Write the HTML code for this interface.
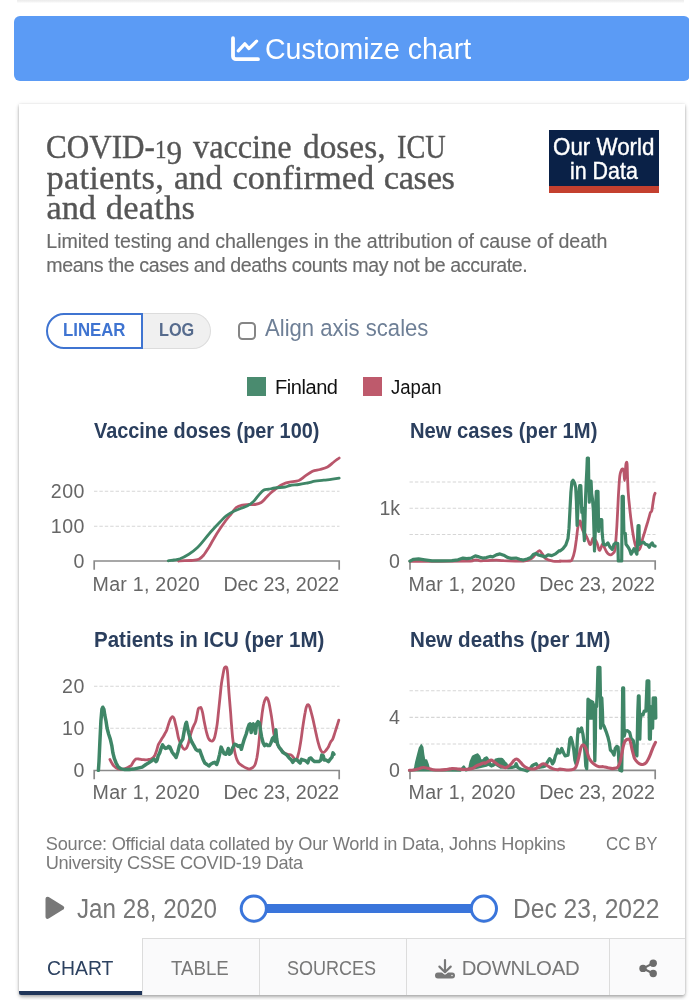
<!DOCTYPE html>
<html><head><meta charset="utf-8"><title>COVID-19 chart</title>
<style>
*{box-sizing:border-box;margin:0;padding:0}
html,body{width:689px;height:1000px;overflow:hidden;background:#fff}
body{font-family:"Liberation Sans",sans-serif;position:relative}
.a,.t{position:absolute;white-space:nowrap}
.t{z-index:5}
#txt{position:absolute;left:0;top:0;width:689px;height:1000px;z-index:5;will-change:transform}
#topshadow{left:17px;top:0;width:667px;height:3px;background:linear-gradient(#ebebeb,#f3f3f3 55%,#fdfdfd)}
#btn{left:14.4px;top:16px;width:676px;height:65px;background:#5b9bf5;border-radius:6px}
#card{left:18.5px;top:103.5px;width:666.6px;height:891px;background:#fff;border-radius:0 0 3px 3px;box-shadow:0 0 4px rgba(0,0,0,.09),0 0 1px rgba(0,0,0,.16),0 2px 3px rgba(0,0,0,.2),0 3px 5px rgba(0,0,0,.1)}
#logo{left:549px;top:130px;width:110px;height:63px;background:#0a2147;border-bottom:7px solid #c4402f}
#linbox{left:46px;top:313px;width:97px;height:35.5px;border:2px solid #3f74d1;border-radius:18px 0 0 18px;background:#fff}
#logbox{left:142px;top:313px;width:68.5px;height:35.5px;border:1px solid #dcdcdc;border-left:0;border-radius:0 18px 18px 0;background:#f0f0f0}
#cb{left:238px;top:322.3px;width:17.6px;height:17.6px;border:2.4px solid #858585;border-radius:4.5px;background:#fff}
#sqf{left:247px;top:377px;width:19px;height:19px;background:#4a8b6f}
#sqj{left:363px;top:377px;width:19px;height:19px;background:#be5a6c}
#tabs{left:141.5px;top:938px;width:543.6px;height:56.5px;background:#fafafb;border-radius:0 0 3px 0;border-top:1px solid #dcdcdc}
.dv{top:938px;width:1px;height:56.5px;background:#dcdcdc}
#tabul{left:18.5px;top:990.8px;width:123px;height:3.9px;background:#1f3559;border-radius:0 0 0 2px}
#svg{left:0;top:0;z-index:3}
</style></head><body>
<div class="a" id="topshadow"></div>
<div class="a" id="btn"></div>
<div class="a" id="card"></div>
<div class="a" id="logo"></div>
<div class="a" id="logbox"></div>
<div class="a" id="linbox"></div>
<div class="a" id="cb"></div>
<div class="a" id="sqf"></div>
<div class="a" id="sqj"></div>
<div class="a" id="tabs"></div>
<div class="a dv" style="left:141.5px"></div>
<div class="a dv" style="left:258.5px"></div>
<div class="a dv" style="left:405.5px"></div>
<div class="a dv" style="left:609px"></div>
<div class="a" id="tabul"></div>
<svg class="a" id="svg" width="689" height="1000" viewBox="0 0 689 1000">
<line x1="94" x2="339.5" y1="491.25" y2="491.25" stroke="#d6d6d6" stroke-width="1.1" stroke-dasharray="3.4,2"/>
<line x1="94" x2="339.5" y1="526.25" y2="526.25" stroke="#d6d6d6" stroke-width="1.1" stroke-dasharray="3.4,2"/>
<path d="M94.2,569.8 V561 H339.2 V569.8" fill="none" stroke="#8a8a8a" stroke-width="1.7"/>
<line x1="409.5" x2="655.5" y1="482" y2="482" stroke="#d6d6d6" stroke-width="1.1" stroke-dasharray="3.4,2"/>
<line x1="409.5" x2="655.5" y1="508.25" y2="508.25" stroke="#d6d6d6" stroke-width="1.1" stroke-dasharray="3.4,2"/>
<line x1="409.5" x2="655.5" y1="534.5" y2="534.5" stroke="#d6d6d6" stroke-width="1.1" stroke-dasharray="3.4,2"/>
<path d="M410,569.8 V561 H655.2 V569.8" fill="none" stroke="#8a8a8a" stroke-width="1.7"/>
<line x1="94" x2="339.5" y1="686.3" y2="686.3" stroke="#d6d6d6" stroke-width="1.1" stroke-dasharray="3.4,2"/>
<line x1="94" x2="339.5" y1="728.2" y2="728.2" stroke="#d6d6d6" stroke-width="1.1" stroke-dasharray="3.4,2"/>
<path d="M94.2,779.3 V770.5 H339.2 V779.3" fill="none" stroke="#8a8a8a" stroke-width="1.7"/>
<line x1="409.5" x2="655.5" y1="690.8" y2="690.8" stroke="#d6d6d6" stroke-width="1.1" stroke-dasharray="3.4,2"/>
<line x1="409.5" x2="655.5" y1="717.4" y2="717.4" stroke="#d6d6d6" stroke-width="1.1" stroke-dasharray="3.4,2"/>
<line x1="409.5" x2="655.5" y1="744" y2="744" stroke="#d6d6d6" stroke-width="1.1" stroke-dasharray="3.4,2"/>
<path d="M410,779.1999999999999 V770.4 H655.2 V779.1999999999999" fill="none" stroke="#8a8a8a" stroke-width="1.7"/>
<path d="M178.8,561.1 C179.0,561.0 177.9,560.9 180.0,560.8 C182.1,560.6 188.1,560.8 191.2,560.5 C194.4,560.2 196.7,560.2 198.8,559.2 C200.8,558.3 202.1,557.0 203.8,555.0 C205.4,553.0 207.1,550.2 208.8,547.5 C210.4,544.8 211.9,541.9 213.8,538.8 C215.6,535.6 217.9,531.9 220.0,528.8 C222.1,525.6 224.4,522.5 226.2,520.0 C228.1,517.5 229.6,515.8 231.2,513.8 C232.9,511.7 234.4,509.0 236.2,507.5 C238.1,506.0 240.4,505.5 242.5,505.0 C244.6,504.5 246.7,504.6 248.8,504.5 C250.8,504.4 252.9,504.8 255.0,504.5 C257.1,504.2 259.4,503.7 261.2,502.5 C263.1,501.3 264.6,499.2 266.2,497.5 C267.9,495.8 269.4,494.2 271.2,492.5 C273.1,490.8 275.4,489.0 277.5,487.5 C279.6,486.0 281.7,484.7 283.8,483.8 C285.8,482.8 287.5,482.5 290.0,482.0 C292.5,481.5 296.2,481.5 298.8,480.5 C301.2,479.5 302.7,477.8 305.0,476.2 C307.3,474.7 310.0,472.4 312.5,471.2 C315.0,470.1 317.5,470.2 320.0,469.5 C322.5,468.8 325.2,468.2 327.5,467.0 C329.8,465.8 331.8,463.5 333.8,462.0 C335.7,460.5 338.3,458.7 339.2,458.0" fill="none" stroke="#b9566b" stroke-width="2.8" stroke-linejoin="round" stroke-linecap="round"/>
<path d="M168.2,560.8 C169.2,560.6 172.0,560.3 174.0,560.0 C176.0,559.7 177.5,559.7 180.0,558.8 C182.5,557.8 185.8,556.1 188.8,554.2 C191.7,552.4 194.8,550.1 197.5,547.5 C200.2,544.9 202.5,541.7 205.0,538.8 C207.5,535.8 210.0,532.8 212.5,530.0 C215.0,527.2 217.7,524.4 220.0,522.0 C222.3,519.6 224.0,517.5 226.2,515.8 C228.5,514.0 231.2,512.5 233.8,511.2 C236.2,510.0 239.0,509.2 241.2,508.2 C243.5,507.3 245.4,506.9 247.5,505.8 C249.6,504.6 251.9,503.0 253.8,501.2 C255.6,499.5 257.1,496.9 258.8,495.0 C260.4,493.1 262.1,491.0 263.8,490.0 C265.4,489.0 266.9,489.6 268.8,489.2 C270.6,488.9 272.3,488.4 275.0,488.0 C277.7,487.6 282.5,487.4 285.0,487.0 C287.5,486.6 287.7,485.9 290.0,485.5 C292.3,485.1 295.8,484.9 298.8,484.5 C301.7,484.1 304.8,483.5 307.5,483.0 C310.2,482.5 312.3,481.7 315.0,481.2 C317.7,480.8 320.8,480.6 323.8,480.2 C326.7,479.9 329.9,479.6 332.5,479.2 C335.1,478.9 338.1,478.4 339.2,478.2" fill="none" stroke="#3f8667" stroke-width="2.8" stroke-linejoin="round" stroke-linecap="round"/>
<path d="M409.9,561.3 C419.4,561.3 456.2,561.2 466.7,561.1 C477.2,560.9 471.2,560.5 472.9,560.3 C474.5,560.1 475.3,559.8 476.6,559.8 C477.8,559.9 478.6,560.7 480.3,560.8 C481.9,560.9 483.7,560.7 486.4,560.6 C489.1,560.5 493.4,560.1 496.3,560.1 C499.2,560.1 499.2,560.4 503.7,560.6 C508.2,560.7 518.7,561.5 523.4,561.1 C528.2,560.7 530.0,559.3 532.1,558.1 C534.1,556.9 534.5,555.2 535.8,553.9 C537.0,552.7 538.3,550.6 539.5,550.7 C540.6,550.8 541.6,553.1 542.7,554.4 C543.7,555.7 543.9,557.5 545.6,558.6 C547.4,559.7 550.6,560.6 553.0,561.1 C555.5,561.5 559.3,561.3 560.4,561.3 C561.6,561.3 558.4,561.1 560.0,561.0 C561.6,561.0 568.1,561.4 570.2,561.0 C572.2,560.7 571.6,560.4 572.3,558.9 C573.1,557.3 573.9,554.7 574.5,551.6 C575.2,548.5 575.7,543.9 576.3,540.0 C576.8,536.1 577.3,531.3 577.7,528.4 C578.1,525.5 578.4,523.8 578.9,522.6 C579.3,521.4 579.9,520.6 580.3,521.1 C580.7,521.6 580.8,524.0 581.2,525.5 C581.6,526.9 582.0,528.6 582.5,529.8 C583.0,531.0 583.3,531.8 583.9,532.7 C584.6,533.7 585.4,534.3 586.1,535.6 C586.9,537.0 587.7,539.3 588.3,540.7 C588.9,542.2 589.3,543.9 589.8,544.3 C590.2,544.8 590.7,544.6 591.2,543.6 C591.7,542.6 592.1,539.3 592.7,538.5 C593.3,537.8 594.1,538.5 594.8,539.3 C595.6,540.0 596.3,541.1 597.0,542.9 C597.7,544.7 598.6,549.2 599.2,550.1 C599.8,551.1 600.1,549.7 600.6,548.7 C601.2,547.7 601.8,544.6 602.4,544.3 C603.0,544.1 603.6,546.0 604.3,547.2 C604.9,548.5 605.7,550.4 606.4,551.6 C607.2,552.8 607.9,553.7 608.6,554.2 C609.3,554.7 610.1,554.9 610.8,554.8 C611.5,554.6 612.3,554.1 613.0,553.3 C613.7,552.6 614.4,552.4 614.9,550.1 C615.3,547.9 615.5,544.1 615.9,540.0 C616.2,535.9 616.6,530.8 616.9,525.5 C617.2,520.1 617.5,514.1 617.8,508.1 C618.1,502.0 618.4,494.5 618.8,489.2 C619.1,483.9 619.4,479.1 619.8,476.1 C620.2,473.1 620.5,472.3 621.0,471.0 C621.4,469.8 622.2,468.7 622.7,468.9 C623.2,469.0 623.5,469.8 623.9,471.8 C624.2,473.7 624.3,480.5 624.6,480.5 C624.8,480.5 625.1,474.6 625.3,471.8 C625.6,469.0 625.7,465.1 626.0,463.8 C626.3,462.5 626.8,461.2 627.1,463.8 C627.3,466.3 627.4,474.3 627.6,479.0 C627.8,483.7 627.9,487.7 628.2,492.1 C628.5,496.4 628.9,500.8 629.4,505.2 C629.8,509.5 630.3,513.9 630.8,518.2 C631.4,522.6 632.0,527.5 632.6,531.3 C633.1,535.0 633.8,538.2 634.3,540.7 C634.8,543.3 635.2,544.9 635.8,546.5 C636.3,548.1 637.0,549.8 637.6,550.1 C638.3,550.5 639.2,549.7 639.8,548.7 C640.4,547.7 640.8,546.0 641.3,544.3 C641.8,542.6 642.1,540.7 642.7,538.5 C643.3,536.4 644.2,533.7 644.9,531.3 C645.6,528.9 646.4,526.2 647.1,524.0 C647.7,521.8 648.3,520.1 648.8,518.2 C649.4,516.3 649.8,513.9 650.3,512.7 C650.8,511.5 651.3,512.5 651.7,511.0 C652.2,509.5 652.5,506.1 652.9,503.7 C653.3,501.3 653.7,498.2 654.0,496.4 C654.4,494.7 654.9,493.8 655.1,493.3" fill="none" stroke="#b9566b" stroke-width="2.8" stroke-linejoin="round" stroke-linecap="round"/>
<path d="M409.9,561.1 L413.6,559.3 L418.6,558.9 L424.7,559.8 L432.1,560.8 L442.0,560.8 L451.9,560.6 L458.0,559.8 L463.0,558.1 L466.7,558.6 L471.1,558.1 L475.3,555.9 L479.0,556.9 L482.7,558.1 L486.4,557.6 L490.1,556.4 L492.6,556.9 L496.3,554.9 L500.0,553.9 L503.7,555.2 L507.4,557.4 L511.1,558.4 L516.0,558.1 L519.7,559.3 L523.4,560.1 L527.1,558.9 L530.8,557.4 L533.3,554.4 L535.8,553.4 L538.2,554.9 L541.9,555.9 L545.1,556.9 L548.1,554.9 L551.8,555.6 L555.5,553.9 L559.2,550.7 L560.0,550.9 L562.9,548.7 L565.8,545.1 L568.0,538.5 L569.0,528.4 L569.9,511.0 L570.9,492.1 L571.9,481.9 L573.1,480.2 L574.5,482.7 L575.7,487.7 L576.4,500.8 L577.1,525.5 L578.0,508.1 L578.9,493.5 L579.7,485.6 L580.8,485.6 L581.3,497.9 L581.8,512.4 L582.5,508.1 L583.2,518.2 L583.8,531.3 L584.4,540.7 L585.0,519.7 L585.5,499.3 L586.1,484.8 L586.9,468.9 L587.3,458.0 L588.4,458.0 L588.7,479.0 L589.3,502.2 L589.9,481.2 L591.1,481.2 L591.6,493.5 L592.5,499.3 L593.4,511.0 L594.0,531.3 L594.5,550.9 L595.3,531.3 L595.7,508.1 L596.3,491.4 L598.0,491.4 L598.3,508.1 L598.6,531.3 L599.2,519.7 L601.8,519.7 L602.1,531.3 L602.7,538.5 L603.5,544.3 L605.7,545.1 L607.9,542.9 L610.1,547.2 L612.2,549.4 L614.0,544.3 L615.9,542.9 L617.8,543.6 L618.1,551.6 L618.3,561.0 L621.7,561.0 L622.0,522.6 L622.1,496.4 L623.3,496.4 L623.6,519.7 L623.9,532.7 L625.3,533.5 L626.0,544.3 L628.2,547.2 L629.7,550.1 L631.1,554.2 L632.6,551.6 L634.0,548.7 L635.5,551.6 L636.9,554.2 L637.5,544.3 L637.8,531.3 L638.1,525.5 L639.0,525.5 L639.2,537.1 L639.5,544.3 L641.3,542.9 L643.5,542.2 L645.6,544.3 L647.8,545.1 L649.3,547.2 L650.7,544.3 L652.2,542.9 L653.6,545.8 L655.1,546.1" fill="none" stroke="#3f8667" stroke-width="3.2" stroke-linejoin="round" stroke-linecap="round"/>
<path d="M109.9,759.4 C110.2,760.0 111.1,762.0 111.8,763.0 C112.4,764.1 113.0,765.0 113.9,766.0 C114.9,766.9 116.0,768.0 117.6,768.6 C119.1,769.1 121.6,769.4 123.4,769.1 C125.2,768.9 127.1,767.8 128.5,767.1 C129.8,766.5 130.5,766.1 131.4,765.2 C132.2,764.3 132.8,762.6 133.5,761.6 C134.3,760.6 134.9,759.6 135.7,759.1 C136.6,758.7 137.5,758.9 138.6,759.0 C139.7,759.1 141.0,759.4 142.2,759.6 C143.5,759.7 144.8,759.9 145.9,759.9 C147.0,759.8 147.8,759.6 148.8,759.4 C149.7,759.2 150.7,759.3 151.7,758.7 C152.7,758.1 153.7,757.2 154.6,755.8 C155.4,754.3 156.2,751.8 156.8,750.0 C157.4,748.2 157.6,746.4 158.2,744.9 C158.8,743.5 159.7,742.5 160.4,741.3 C161.1,740.1 161.8,738.9 162.6,737.6 C163.3,736.4 164.0,735.4 164.7,734.0 C165.5,732.7 166.2,731.6 166.9,729.7 C167.6,727.7 168.4,724.3 169.1,722.4 C169.8,720.5 170.4,719.0 171.0,718.1 C171.6,717.1 172.2,716.5 172.7,716.6 C173.3,716.7 173.7,717.5 174.2,718.8 C174.7,720.1 175.1,722.5 175.6,724.6 C176.1,726.6 176.6,728.7 177.1,731.1 C177.6,733.5 177.9,736.4 178.8,739.1 C179.7,741.8 181.4,745.4 182.3,747.1 C183.3,748.8 183.8,749.1 184.5,749.3 C185.2,749.4 186.0,748.9 186.7,747.8 C187.4,746.7 188.0,744.8 188.6,742.7 C189.2,740.7 189.7,737.6 190.3,735.5 C190.9,733.3 191.5,731.4 192.1,729.7 C192.7,728.0 193.3,726.8 193.9,725.3 C194.6,723.9 195.3,722.9 195.8,721.0 C196.4,719.0 196.9,715.8 197.3,713.7 C197.7,711.6 198.0,709.6 198.4,708.6 C198.9,707.7 199.3,708.0 199.8,707.9 C200.2,707.8 200.7,707.0 201.2,707.9 C201.7,708.7 202.2,710.8 202.7,713.0 C203.1,715.2 203.6,718.4 204.1,721.0 C204.6,723.5 205.1,726.0 205.6,728.2 C206.0,730.4 206.5,732.3 207.0,734.0 C207.5,735.7 207.9,737.3 208.5,738.4 C209.0,739.5 209.7,740.1 210.3,740.6 C211.0,741.0 211.7,741.3 212.4,741.0 C213.0,740.6 213.7,739.8 214.3,738.4 C214.8,737.0 215.2,735.0 215.7,732.6 C216.2,730.1 216.7,727.5 217.2,723.9 C217.7,720.2 218.1,715.4 218.6,710.8 C219.1,706.2 219.6,700.9 220.1,696.3 C220.6,691.7 221.0,686.9 221.5,683.2 C222.0,679.6 222.5,677.1 223.0,674.5 C223.5,672.0 223.8,669.2 224.4,668.0 C225.0,666.8 226.1,666.4 226.6,667.3 C227.1,668.1 227.3,669.9 227.6,673.1 C227.9,676.2 228.2,681.8 228.5,686.1 C228.8,690.5 229.1,694.6 229.5,699.2 C229.9,703.8 230.3,709.1 230.7,713.7 C231.0,718.3 231.3,722.7 231.7,726.8 C232.0,730.9 232.3,735.0 232.7,738.4 C233.1,741.8 233.4,744.4 233.9,747.1 C234.3,749.7 234.8,752.2 235.3,754.3 C235.8,756.5 236.4,758.6 237.1,760.1 C237.7,761.7 238.5,762.8 239.4,763.8 C240.3,764.7 241.4,765.2 242.6,766.0 C243.7,766.7 245.1,767.6 246.2,768.1 C247.3,768.7 248.5,769.0 249.1,769.1 C249.7,769.3 249.4,769.1 250.0,768.9 C250.6,768.6 252.1,768.1 252.9,767.4 C253.7,766.7 254.4,766.2 255.1,764.5 C255.8,762.8 256.4,760.1 257.0,757.2 C257.5,754.3 258.0,750.7 258.4,747.1 C258.9,743.5 259.2,739.3 259.6,735.5 C260.0,731.6 260.4,727.7 260.9,723.9 C261.3,720.0 261.9,715.6 262.3,712.2 C262.8,708.9 263.2,705.8 263.8,703.5 C264.3,701.2 265.1,699.4 265.7,698.5 C266.2,697.5 266.6,697.5 267.1,698.0 C267.6,698.5 268.1,699.7 268.6,701.4 C269.1,703.0 269.5,705.4 270.0,707.9 C270.5,710.4 271.0,713.5 271.5,716.6 C272.0,719.7 272.5,723.9 272.9,726.8 C273.3,729.7 273.4,731.6 273.9,734.0 C274.5,736.4 275.3,739.1 276.1,741.3 C277.0,743.5 277.8,745.3 279.0,747.1 C280.2,748.9 281.9,751.0 283.4,752.2 C284.8,753.4 286.4,753.9 287.7,754.3 C289.1,754.8 290.4,754.5 291.4,755.1 C292.3,755.6 292.9,756.7 293.5,757.5 C294.2,758.4 294.8,759.8 295.3,760.1 C295.8,760.5 296.3,760.1 296.7,759.4 C297.2,758.7 297.5,757.4 297.9,755.8 C298.3,754.2 298.9,752.4 299.3,750.0 C299.8,747.6 300.3,744.4 300.8,741.3 C301.3,738.1 301.8,734.5 302.2,731.1 C302.7,727.7 303.2,724.1 303.7,721.0 C304.2,717.8 304.7,714.7 305.2,712.2 C305.6,709.8 306.1,707.4 306.6,706.2 C307.1,704.9 307.6,704.7 308.1,704.7 C308.5,704.8 309.0,705.3 309.5,706.4 C310.0,707.6 310.4,709.6 311.0,711.5 C311.5,713.5 312.1,715.5 312.7,718.1 C313.3,720.6 314.0,723.9 314.6,726.8 C315.2,729.7 315.9,732.8 316.5,735.5 C317.1,738.1 317.6,740.6 318.2,742.7 C318.8,744.9 319.4,747.0 320.0,748.5 C320.6,750.0 321.2,751.1 321.8,751.7 C322.5,752.3 323.3,752.5 324.0,752.2 C324.7,751.9 325.5,750.8 326.2,750.0 C326.9,749.1 327.6,748.4 328.4,747.1 C329.1,745.8 329.8,743.3 330.6,742.0 C331.3,740.7 332.0,740.7 332.7,739.1 C333.5,737.5 334.2,734.6 334.9,732.6 C335.6,730.5 336.1,728.8 336.8,726.8 C337.4,724.7 338.5,721.3 338.8,720.2" fill="none" stroke="#b9566b" stroke-width="2.8" stroke-linejoin="round" stroke-linecap="round"/>
<path d="M98.4,770.3 L99.0,761.6 L99.9,741.3 L100.9,721.0 L101.9,709.3 L102.8,707.2 L103.9,709.3 L104.8,715.2 L106.0,721.0 L107.1,728.2 L108.6,734.0 L110.3,739.1 L111.8,745.6 L112.9,752.9 L114.4,758.7 L116.1,763.0 L118.3,767.1 L121.2,768.9 L124.8,769.6 L129.2,769.6 L133.5,769.1 L137.9,768.1 L142.2,767.1 L145.9,764.5 L148.8,762.8 L151.7,760.9 L153.9,759.0 L156.0,761.6 L157.1,760.1 L158.2,755.8 L159.7,752.9 L161.1,748.5 L162.6,744.9 L164.0,747.1 L165.5,748.5 L167.2,747.8 L168.7,746.4 L170.1,748.5 L170.0,747.1 L172.2,752.2 L174.4,755.1 L176.1,757.5 L178.0,751.4 L179.4,745.6 L180.9,742.0 L182.8,739.1 L184.2,731.1 L185.7,723.9 L186.5,722.4 L187.4,726.8 L188.6,732.6 L190.0,737.6 L191.8,742.0 L193.9,745.6 L195.8,749.3 L197.6,750.7 L199.8,750.3 L201.2,754.3 L203.1,759.4 L204.8,763.0 L207.0,764.5 L208.9,766.0 L210.6,764.2 L212.8,763.0 L214.7,762.3 L216.7,764.5 L218.2,760.1 L219.6,754.3 L221.1,747.1 L222.5,750.0 L224.0,753.6 L225.9,754.3 L227.6,750.7 L228.3,748.5 L229.5,754.3 L231.0,752.9 L232.7,747.8 L234.6,744.2 L236.5,744.9 L238.2,746.4 L240.0,745.6 L241.4,749.3 L242.6,744.9 L244.3,739.1 L246.2,734.0 L247.6,728.9 L249.1,724.6 L250.0,723.9 L251.2,732.6 L252.2,724.6 L253.2,723.9 L254.4,728.2 L255.5,733.3 L256.5,723.9 L258.0,721.7 L259.4,723.1 L260.4,729.7 L261.6,736.9 L263.1,742.7 L264.5,745.6 L266.3,744.2 L267.7,745.6 L269.6,745.6 L271.0,742.7 L272.5,738.4 L273.9,736.9 L275.0,741.3 L275.8,729.7 L276.6,738.4 L277.6,744.2 L279.0,747.1 L280.8,749.3 L282.7,752.2 L284.8,753.6 L287.0,755.1 L289.2,758.0 L291.4,760.1 L292.8,762.3 L294.3,760.1 L296.4,759.4 L298.6,761.6 L300.1,763.0 L301.5,759.4 L303.7,760.1 L305.9,760.9 L307.8,762.8 L309.2,758.7 L311.0,758.0 L312.7,760.1 L314.6,761.6 L316.8,761.6 L318.9,761.6 L320.8,760.1 L321.8,755.1 L323.3,755.8 L324.3,760.1 L326.2,760.1 L328.4,761.6 L330.1,759.4 L332.0,757.2 L333.0,752.9 L333.9,754.3" fill="none" stroke="#3f8667" stroke-width="3.5" stroke-linejoin="round" stroke-linecap="round"/>
<path d="M414.0,770.3 L414.9,766.7 L415.9,761.6 L417.8,754.3 L419.5,747.8 L421.3,744.9 L422.7,747.1 L423.6,754.3 L424.6,760.1 L426.5,760.1 L427.9,763.8 L429.1,768.1 L429.7,770.3Z" fill="#3f8667" stroke="#3f8667" stroke-width="1.5" stroke-linejoin="round"/>
<path d="M468.3,769.6 L469.2,766.7 L470.3,761.6 L472.5,756.5 L474.7,755.1 L477.6,754.0 L479.7,756.5 L480.8,760.1 L482.6,760.1 L484.5,758.7 L486.3,757.5 L488.0,760.1 L489.9,761.6 L490.6,763.8 L486.3,766.0 L477.6,768.1Z" fill="#3f8667" stroke="#3f8667" stroke-width="1.5" stroke-linejoin="round"/>
<path d="M488.5,763.8 L491.4,766.7 L493.8,765.7 L495.7,760.1 L497.9,759.4 L500.8,759.9 L503.0,760.9 L505.0,762.3 L506.6,763.3 L508.0,767.4 L500.8,768.1 L495.0,764.5Z" fill="#3f8667" stroke="#3f8667" stroke-width="1.5" stroke-linejoin="round"/>
<path d="M409.4,770.6 L414.0,770.3 L429.7,770.3 L460.2,770.6 L463.8,766.7 L466.0,770.3 L468.3,769.6" fill="none" stroke="#3f8667" stroke-width="2.5" stroke-linejoin="round" stroke-linecap="round"/>
<path d="M485.0,758.7 L486.5,758.0 L487.9,760.1 L489.4,764.5 L491.5,765.7 L493.7,764.8 L495.9,760.1 L498.8,759.4 L501.7,759.4 L503.6,761.6 L505.3,764.5 L508.2,767.7 L511.9,767.4 L514.8,766.7 L516.2,763.8 L517.7,767.4 L520.6,769.1 L524.2,770.0 L527.1,771.0 L530.0,768.9 L532.2,765.7 L534.3,764.5 L536.1,763.8 L538.7,767.4 L543.1,766.7 L545.2,766.0 L547.7,761.6 L549.6,758.7 L551.0,760.1 L552.5,763.8 L553.9,761.6 L555.4,755.8 L556.8,752.9 L557.6,749.3 L559.0,752.9 L560.0,752.9 L561.7,748.5 L563.6,752.9 L565.1,755.8 L568.0,755.1 L569.0,747.1 L569.9,739.1 L571.0,737.6 L572.3,742.0 L573.8,750.0 L574.9,760.1 L576.0,763.8 L576.7,752.9 L577.4,738.4 L578.1,728.9 L579.6,731.8 L581.5,727.9 L582.9,734.0 L583.9,741.3 L585.0,752.9 L585.8,766.0 L586.7,768.6 L587.1,752.9 L587.6,722.4 L588.0,699.2 L588.0,699.2 L588.3,718.1 L588.6,699.7 L588.9,718.1 L589.2,700.2 L589.5,718.1 L589.8,700.6 L590.0,718.1 L590.3,700.9 L590.6,718.1 L590.9,701.2 L591.2,718.1 L591.5,701.5 L591.8,718.1 L592.1,701.8 L592.4,718.1 L592.7,702.1 L592.9,718.1 L593.2,703.7 L593.5,718.1 L593.8,705.0 L594.1,718.1 L594.3,718.1 L594.5,741.3 L594.8,760.9 L595.3,741.3 L595.7,707.9 L596.6,706.4 L597.4,689.0 L598.0,667.3 L599.9,667.3 L600.3,689.0 L600.6,728.2 L601.1,703.5 L601.8,698.0 L602.4,710.8 L602.8,723.9 L604.3,726.8 L606.2,731.8 L607.9,736.9 L609.3,742.7 L610.4,750.0 L612.2,751.7 L614.0,755.1 L615.2,748.5 L616.9,746.4 L618.1,747.1 L618.8,760.1 L619.8,770.3 L621.7,771.0 L622.1,747.1 L622.4,718.1 L622.7,687.9 L623.6,687.9 L623.9,718.1 L624.2,736.2 L625.3,731.1 L627.5,730.7 L629.7,732.6 L631.1,738.4 L633.3,740.6 L634.3,748.5 L635.8,754.3 L636.9,755.8 L637.4,732.6 L637.8,712.2 L638.4,696.0 L639.1,696.0 L639.5,718.1 L639.8,739.1 L640.3,721.0 L641.0,714.4 L643.0,714.9 L644.2,711.1 L645.9,711.1 L646.5,696.3 L647.1,681.0 L648.8,681.0 L649.1,710.8 L649.4,739.1 L650.3,739.1 L650.6,728.2 L650.9,706.7 L651.4,728.2 L652.0,706.7 L652.6,728.2 L653.2,698.0 L653.8,718.1 L654.3,698.0 L654.9,718.1 L655.5,698.0 L655.8,718.1" fill="none" stroke="#3f8667" stroke-width="3.3" stroke-linejoin="round" stroke-linecap="round"/>
<path d="M409.4,770.3 C410.1,770.3 412.3,770.2 413.7,770.0 C415.2,769.8 416.7,769.5 418.1,769.1 C419.4,768.8 420.5,767.9 421.7,767.7 C422.9,767.5 424.1,767.5 425.3,767.7 C426.5,767.8 427.6,768.2 428.9,768.6 C430.3,768.9 431.5,769.5 433.3,769.7 C435.1,770.0 437.8,770.0 439.8,770.0 C441.9,770.0 443.7,769.8 445.6,769.6 C447.6,769.3 449.5,768.7 451.4,768.6 C453.4,768.4 455.3,768.7 457.2,768.9 C459.2,769.0 461.1,769.4 463.1,769.4 C465.0,769.5 467.2,769.4 468.9,769.1 C470.6,768.9 471.9,768.7 473.2,768.1 C474.5,767.5 475.6,766.3 476.8,765.7 C478.1,765.0 479.3,764.7 480.5,764.2 C481.7,763.7 483.3,762.9 484.1,762.8 C484.9,762.6 484.4,763.5 485.0,763.3 C485.6,763.1 486.9,762.1 487.9,761.6 C488.9,761.1 490.1,760.1 491.1,760.1 C492.1,760.1 492.7,760.9 493.7,761.6 C494.7,762.3 496.1,763.4 497.3,764.2 C498.5,765.0 499.6,765.7 501.0,766.2 C502.3,766.8 504.0,767.7 505.3,767.7 C506.6,767.6 507.9,766.7 508.9,766.0 C510.0,765.2 511.0,764.0 511.9,763.0 C512.7,762.1 513.3,761.1 514.0,760.4 C514.8,759.8 515.5,759.0 516.2,759.0 C516.9,758.9 517.7,759.6 518.4,760.1 C519.1,760.7 519.8,761.5 520.6,762.3 C521.3,763.2 522.1,764.3 523.0,765.2 C524.0,766.1 525.2,767.1 526.4,767.7 C527.5,768.3 528.7,768.7 530.0,768.9 C531.3,769.0 533.0,769.1 534.3,768.9 C535.7,768.6 536.9,768.1 538.0,767.4 C539.1,766.7 539.9,765.4 540.9,764.8 C541.8,764.2 542.9,763.8 543.8,763.8 C544.6,763.8 545.1,764.3 546.0,764.8 C546.8,765.3 547.8,766.0 548.9,766.7 C549.9,767.3 551.0,768.1 552.5,768.6 C553.9,769.1 556.3,769.6 557.6,769.7 C558.8,769.8 558.1,769.1 560.0,769.1 C561.9,769.2 566.4,770.0 568.7,770.0 C571.0,770.0 572.6,769.7 573.8,769.1 C575.0,768.6 575.2,768.2 576.0,766.7 C576.7,765.2 577.4,762.9 578.1,760.1 C578.9,757.4 579.7,752.4 580.3,750.0 C580.9,747.6 581.2,746.8 581.8,745.9 C582.3,745.1 583.0,744.8 583.5,744.9 C584.0,745.0 584.4,745.3 585.0,746.4 C585.5,747.4 586.2,749.5 586.9,751.4 C587.5,753.4 588.2,756.2 589.0,758.0 C589.9,759.8 590.8,761.1 591.9,762.3 C593.0,763.5 594.3,764.5 595.6,765.2 C596.8,766.0 597.9,766.4 599.2,766.7 C600.5,766.9 602.1,766.5 603.5,766.7 C605.0,766.8 606.4,767.4 607.9,767.7 C609.3,768.0 610.9,768.5 612.2,768.6 C613.6,768.6 614.9,768.4 615.9,768.1 C616.8,767.8 617.3,767.8 618.1,766.7 C618.8,765.6 619.6,763.7 620.2,761.6 C620.8,759.5 621.2,756.8 621.7,754.3 C622.2,751.9 622.7,749.1 623.1,747.1 C623.6,745.0 624.0,743.3 624.6,742.0 C625.2,740.7 626.0,739.9 626.8,739.5 C627.6,739.1 628.7,738.9 629.4,739.5 C630.1,740.2 630.4,742.0 630.8,743.5 C631.2,745.0 631.4,746.7 631.8,748.5 C632.3,750.3 632.8,752.6 633.3,754.3 C633.8,756.0 634.0,757.4 634.7,758.7 C635.5,760.0 636.7,761.4 637.6,762.3 C638.6,763.2 639.6,763.9 640.6,764.2 C641.5,764.5 642.5,764.5 643.5,764.2 C644.4,763.9 645.5,763.2 646.4,762.3 C647.2,761.4 647.8,760.1 648.5,758.7 C649.3,757.2 650.0,755.4 650.7,753.6 C651.4,751.8 652.1,749.7 652.9,747.8 C653.7,745.9 655.1,743.3 655.5,742.4" fill="none" stroke="#b9566b" stroke-width="3.1" stroke-linejoin="round" stroke-linecap="round"/>
<path d="M233,38.2 V56.2 a3,3 0 0 0 3,3 H258" fill="none" stroke="#fff" stroke-width="3.8" stroke-linecap="round" stroke-linejoin="round"/>
<path d="M238.3,50.9 L244.8,43.8 L249,48.6 L256.6,41.2" fill="none" stroke="#fff" stroke-width="3.2" stroke-linecap="round" stroke-linejoin="round"/>
<path d="M47.6,898.8 L62.1,907.8 L47.6,916.8 Z" fill="#787878" stroke="#787878" stroke-width="4.2" stroke-linejoin="round"/>
<rect x="254" y="904" width="230" height="9" fill="#3a75db"/>
<circle cx="253.8" cy="909.6" r="13.5" fill="rgba(0,0,0,0.10)"/>
<circle cx="253.8" cy="908.6" r="12.6" fill="#fff" stroke="#3a75db" stroke-width="3"/>
<circle cx="483.9" cy="909.6" r="13.5" fill="rgba(0,0,0,0.10)"/>
<circle cx="483.9" cy="908.6" r="12.6" fill="#fff" stroke="#3a75db" stroke-width="3"/>
<rect x="435" y="972.6" width="20" height="5.8" rx="2.9" fill="#787878"/>
<path d="M439.4,966.6 L445,972.2 L450.7,966.6" fill="none" stroke="#fafafb" stroke-width="4.6" stroke-linecap="round" stroke-linejoin="round"/>
<g fill="none" stroke="#787878" stroke-linecap="round" stroke-linejoin="round" stroke-width="2.2"><path d="M445,960.1 V971.6"/><path d="M439.4,966.6 L445,972.2 L450.7,966.6"/></g>
<circle cx="452" cy="975.5" r="0.8" fill="#e8e8e8"/>
<g fill="#6c6c6c"><circle cx="643" cy="968.4" r="3.7"/><circle cx="653.2" cy="963.3" r="3.7"/><circle cx="653.2" cy="973.5" r="3.7"/></g><path d="M653.2,963.3 L643,968.4 L653.2,973.5" fill="none" stroke="#6c6c6c" stroke-width="2.1"/>
</svg>
<div id="txt">
<div class="t" id="btntxt" style="left:265.20px;top:31.37px;font-family:'Liberation Sans',sans-serif;font-weight:400;font-size:29.8px;line-height:36px;color:#fff;letter-spacing:0.000px;transform:scaleX(0.9574);transform-origin:0 50%;">Customize chart</div>
<div class="t" id="tw0" style="left:46.00px;top:126.19px;font-family:'Liberation Serif',serif;font-weight:400;font-size:34.4px;line-height:41px;color:#555;letter-spacing:0.000px;-webkit-text-stroke:0.35px #555;transform:scaleX(0.9050);transform-origin:0 50%;">COVID-<span style="font-size:.74em">1</span><span style="position:relative;top:.17em">9</span></div>
<div class="t" id="tw1" style="left:192.50px;top:126.19px;font-family:'Liberation Serif',serif;font-weight:400;font-size:34.4px;line-height:41px;color:#555;letter-spacing:0.000px;-webkit-text-stroke:0.35px #555;transform:scaleX(0.9380);transform-origin:0 50%;">vaccine</div>
<div class="t" id="tw2" style="left:302.50px;top:126.19px;font-family:'Liberation Serif',serif;font-weight:400;font-size:34.4px;line-height:41px;color:#555;letter-spacing:0.000px;-webkit-text-stroke:0.35px #555;transform:scaleX(0.9702);transform-origin:0 50%;">doses,</div>
<div class="t" id="tw3" style="left:397.00px;top:126.19px;font-family:'Liberation Serif',serif;font-weight:400;font-size:34.4px;line-height:41px;color:#555;letter-spacing:0.000px;-webkit-text-stroke:0.35px #555;transform:scaleX(0.8230);transform-origin:0 50%;">ICU</div>
<div class="t" id="tw4" style="left:46.50px;top:156.59px;font-family:'Liberation Serif',serif;font-weight:400;font-size:34.4px;line-height:41px;color:#555;letter-spacing:0.209px;-webkit-text-stroke:0.35px #555;">patients,</div>
<div class="t" id="tw5" style="left:174.25px;top:156.59px;font-family:'Liberation Serif',serif;font-weight:400;font-size:34.4px;line-height:41px;color:#555;letter-spacing:0.000px;-webkit-text-stroke:0.35px #555;transform:scaleX(0.9717);transform-origin:0 50%;">and</div>
<div class="t" id="tw6" style="left:232.50px;top:156.59px;font-family:'Liberation Serif',serif;font-weight:400;font-size:34.4px;line-height:41px;color:#555;letter-spacing:0.053px;-webkit-text-stroke:0.35px #555;">confirmed</div>
<div class="t" id="tw7" style="left:383.75px;top:156.59px;font-family:'Liberation Serif',serif;font-weight:400;font-size:34.4px;line-height:41px;color:#555;letter-spacing:-0.328px;-webkit-text-stroke:0.35px #555;">cases</div>
<div class="t" id="tw8" style="left:46.50px;top:186.59px;font-family:'Liberation Serif',serif;font-weight:400;font-size:34.4px;line-height:41px;color:#555;letter-spacing:-0.078px;-webkit-text-stroke:0.35px #555;">and</div>
<div class="t" id="tw9" style="left:105.75px;top:186.59px;font-family:'Liberation Serif',serif;font-weight:400;font-size:34.4px;line-height:41px;color:#555;letter-spacing:0.278px;-webkit-text-stroke:0.35px #555;">deaths</div>
<div class="t" id="s1" style="left:46.30px;top:229.41px;font-family:'Liberation Sans',sans-serif;font-weight:400;font-size:19.6px;line-height:24px;color:#6b6b6b;letter-spacing:-0.049px;-webkit-text-stroke:0.15px #6b6b6b;">Limited testing and challenges in the attribution of cause of death</div>
<div class="t" id="s2" style="left:46.30px;top:252.51px;font-family:'Liberation Sans',sans-serif;font-weight:400;font-size:19.6px;line-height:24px;color:#6b6b6b;letter-spacing:-0.389px;-webkit-text-stroke:0.15px #6b6b6b;">means the cases and deaths counts may not be accurate.</div>
<div class="t" id="lg1" style="left:552.60px;top:133.29px;font-family:'Liberation Sans',sans-serif;font-weight:400;font-size:23.7px;line-height:28px;color:#fff;letter-spacing:0.000px;-webkit-text-stroke:0.4px #fff;transform:scaleX(0.9433);transform-origin:0 50%;">Our World</div>
<div class="t" id="lg2" style="left:569.60px;top:156.69px;font-family:'Liberation Sans',sans-serif;font-weight:400;font-size:23.7px;line-height:28px;color:#fff;letter-spacing:0.000px;-webkit-text-stroke:0.4px #fff;transform:scaleX(0.9032);transform-origin:0 50%;">in Data</div>
<div class="t" id="lin" style="left:62.50px;top:320.07px;font-family:'Liberation Sans',sans-serif;font-weight:700;font-size:17.7px;line-height:21px;color:#3f74d1;letter-spacing:0.000px;transform:scaleX(0.9492);transform-origin:0 50%;">LINEAR</div>
<div class="t" id="log" style="left:159.00px;top:320.07px;font-family:'Liberation Sans',sans-serif;font-weight:700;font-size:17.7px;line-height:21px;color:#566b8d;letter-spacing:0.000px;transform:scaleX(0.9197);transform-origin:0 50%;">LOG</div>
<div class="t" id="align" style="left:264.60px;top:313.99px;font-family:'Liberation Sans',sans-serif;font-weight:400;font-size:23.7px;line-height:28px;color:#6e7f96;letter-spacing:0.000px;transform:scaleX(0.9331);transform-origin:0 50%;">Align axis scales</div>
<div class="t" id="fin" style="left:275.00px;top:374.77px;font-family:'Liberation Sans',sans-serif;font-weight:400;font-size:20px;line-height:24px;color:#111;letter-spacing:-0.435px;">Finland</div>
<div class="t" id="jap" style="left:390.50px;top:374.77px;font-family:'Liberation Sans',sans-serif;font-weight:400;font-size:20px;line-height:24px;color:#111;letter-spacing:0.000px;transform:scaleX(0.9266);transform-origin:0 50%;">Japan</div>
<div class="t" id="ct1" style="left:93.90px;top:417.98px;font-family:'Liberation Sans',sans-serif;font-weight:700;font-size:22px;line-height:26px;color:#2b3f5e;letter-spacing:0.000px;transform:scaleX(0.9035);transform-origin:0 50%;">Vaccine doses (per 100)</div>
<div class="t" id="ct2" style="left:409.90px;top:417.98px;font-family:'Liberation Sans',sans-serif;font-weight:700;font-size:22px;line-height:26px;color:#2b3f5e;letter-spacing:0.000px;transform:scaleX(0.9177);transform-origin:0 50%;">New cases (per 1M)</div>
<div class="t" id="ct3" style="left:93.90px;top:627.48px;font-family:'Liberation Sans',sans-serif;font-weight:700;font-size:22px;line-height:26px;color:#2b3f5e;letter-spacing:0.000px;transform:scaleX(0.9331);transform-origin:0 50%;">Patients in ICU (per 1M)</div>
<div class="t" id="ct4" style="left:409.90px;top:627.48px;font-family:'Liberation Sans',sans-serif;font-weight:700;font-size:22px;line-height:26px;color:#2b3f5e;letter-spacing:0.000px;transform:scaleX(0.9367);transform-origin:0 50%;">New deaths (per 1M)</div>
<div class="t" id="y1a" style="left:50.80px;top:479.21px;font-family:'Liberation Sans',sans-serif;font-weight:400;font-size:19.6px;line-height:24px;color:#666;letter-spacing:0.498px;">200</div>
<div class="t" id="y1b" style="left:50.80px;top:514.21px;font-family:'Liberation Sans',sans-serif;font-weight:400;font-size:19.6px;line-height:24px;color:#666;letter-spacing:0.498px;">100</div>
<div class="t" id="y1c" style="left:73.50px;top:548.96px;font-family:'Liberation Sans',sans-serif;font-weight:400;font-size:19.6px;line-height:24px;color:#666;letter-spacing:0.094px;">0</div>
<div class="t" id="y2a" style="left:379.50px;top:496.21px;font-family:'Liberation Sans',sans-serif;font-weight:400;font-size:19.6px;line-height:24px;color:#666;letter-spacing:-0.203px;">1k</div>
<div class="t" id="y2b" style="left:389.00px;top:548.96px;font-family:'Liberation Sans',sans-serif;font-weight:400;font-size:19.6px;line-height:24px;color:#666;letter-spacing:0.094px;">0</div>
<div class="t" id="y3a" style="left:62.00px;top:674.21px;font-family:'Liberation Sans',sans-serif;font-weight:400;font-size:19.6px;line-height:24px;color:#666;letter-spacing:0.703px;">20</div>
<div class="t" id="y3b" style="left:62.00px;top:716.21px;font-family:'Liberation Sans',sans-serif;font-weight:400;font-size:19.6px;line-height:24px;color:#666;letter-spacing:0.703px;">10</div>
<div class="t" id="y3c" style="left:73.50px;top:758.46px;font-family:'Liberation Sans',sans-serif;font-weight:400;font-size:19.6px;line-height:24px;color:#666;letter-spacing:0.094px;">0</div>
<div class="t" id="y4a" style="left:389.00px;top:705.46px;font-family:'Liberation Sans',sans-serif;font-weight:400;font-size:19.6px;line-height:24px;color:#666;letter-spacing:0.594px;">4</div>
<div class="t" id="y4b" style="left:389.00px;top:758.46px;font-family:'Liberation Sans',sans-serif;font-weight:400;font-size:19.6px;line-height:24px;color:#666;letter-spacing:0.094px;">0</div>
<div class="t" id="x1a" style="left:92.60px;top:571.71px;font-family:'Liberation Sans',sans-serif;font-weight:400;font-size:19.6px;line-height:24px;color:#666;letter-spacing:0.244px;">Mar 1, 2020</div>
<div class="t" id="x2a" style="left:408.60px;top:571.71px;font-family:'Liberation Sans',sans-serif;font-weight:400;font-size:19.6px;line-height:24px;color:#666;letter-spacing:0.224px;">Mar 1, 2020</div>
<div class="t" id="x3a" style="left:92.60px;top:780.46px;font-family:'Liberation Sans',sans-serif;font-weight:400;font-size:19.6px;line-height:24px;color:#666;letter-spacing:0.244px;">Mar 1, 2020</div>
<div class="t" id="x4a" style="left:408.60px;top:780.46px;font-family:'Liberation Sans',sans-serif;font-weight:400;font-size:19.6px;line-height:24px;color:#666;letter-spacing:0.224px;">Mar 1, 2020</div>
<div class="t" id="x1b" style="left:223.40px;top:571.71px;font-family:'Liberation Sans',sans-serif;font-weight:400;font-size:19.6px;line-height:24px;color:#666;letter-spacing:-0.069px;">Dec 23, 2022</div>
<div class="t" id="x2b" style="left:539.20px;top:571.71px;font-family:'Liberation Sans',sans-serif;font-weight:400;font-size:19.6px;line-height:24px;color:#666;letter-spacing:-0.069px;">Dec 23, 2022</div>
<div class="t" id="x3b" style="left:223.40px;top:780.46px;font-family:'Liberation Sans',sans-serif;font-weight:400;font-size:19.6px;line-height:24px;color:#666;letter-spacing:-0.069px;">Dec 23, 2022</div>
<div class="t" id="x4b" style="left:539.20px;top:780.46px;font-family:'Liberation Sans',sans-serif;font-weight:400;font-size:19.6px;line-height:24px;color:#666;letter-spacing:-0.069px;">Dec 23, 2022</div>
<div class="t" id="src1" style="left:45.80px;top:832.89px;font-family:'Liberation Sans',sans-serif;font-weight:400;font-size:18.2px;line-height:22px;color:#7a7a7a;letter-spacing:-0.236px;">Source: Official data collated by Our World in Data, Johns Hopkins</div>
<div class="t" id="src2" style="left:45.80px;top:852.39px;font-family:'Liberation Sans',sans-serif;font-weight:400;font-size:18.2px;line-height:22px;color:#7a7a7a;letter-spacing:-0.337px;">University CSSE COVID-19 Data</div>
<div class="t" id="ccby" style="left:606.30px;top:832.89px;font-family:'Liberation Sans',sans-serif;font-weight:400;font-size:18.2px;line-height:22px;color:#7a7a7a;letter-spacing:0.000px;transform:scaleX(0.9264);transform-origin:0 50%;">CC BY</div>
<div class="t" id="tl1" style="left:77.00px;top:892.61px;font-family:'Liberation Sans',sans-serif;font-weight:400;font-size:26.8px;line-height:32px;color:#777;letter-spacing:0.000px;transform:scaleX(0.9034);transform-origin:0 50%;">Jan 28, 2020</div>
<div class="t" id="tl2" style="left:512.60px;top:892.61px;font-family:'Liberation Sans',sans-serif;font-weight:400;font-size:26.8px;line-height:32px;color:#777;letter-spacing:0.000px;transform:scaleX(0.9183);transform-origin:0 50%;">Dec 23, 2022</div>
<div class="t" id="tab1" style="left:46.60px;top:956.03px;font-family:'Liberation Sans',sans-serif;font-weight:400;font-size:20.4px;line-height:24px;color:#2c4160;letter-spacing:0.000px;transform:scaleX(0.9503);transform-origin:0 50%;">CHART</div>
<div class="t" id="tab2" style="left:171.20px;top:956.03px;font-family:'Liberation Sans',sans-serif;font-weight:400;font-size:20.4px;line-height:24px;color:#777;letter-spacing:0.000px;transform:scaleX(0.9161);transform-origin:0 50%;">TABLE</div>
<div class="t" id="tab3" style="left:287.20px;top:956.03px;font-family:'Liberation Sans',sans-serif;font-weight:400;font-size:20.4px;line-height:24px;color:#777;letter-spacing:0.000px;transform:scaleX(0.8835);transform-origin:0 50%;">SOURCES</div>
<div class="t" id="tab4" style="left:461.70px;top:956.03px;font-family:'Liberation Sans',sans-serif;font-weight:400;font-size:20.4px;line-height:24px;color:#777;letter-spacing:-0.299px;">DOWNLOAD</div>
</div>
</body></html>
